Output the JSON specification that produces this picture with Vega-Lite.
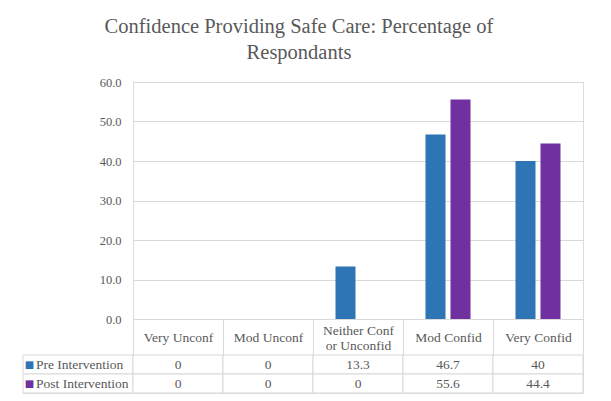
{
  "$schema": "https://vega.github.io/schema/vega-lite/v6.json",
  "background": "white",
  "padding": {"left": 22, "top": 17, "right": 10, "bottom": 5},
  "config": {"font": "'Liberation Serif', 'Times New Roman', serif"},
  "title": {
    "text": ["Confidence Providing Safe Care: Percentage of", "Respondants"],
    "font": "'Liberation Serif', 'Times New Roman', serif",
    "fontSize": 20.5,
    "fontWeight": "normal",
    "color": "#595959",
    "lineHeight": 26,
    "anchor": "middle",
    "dx": -4,
    "offset": 12
  },
  "datasets": {
    "d": [
      {"category": "Very Unconf", "series": "Pre Intervention", "value": 0},
      {"category": "Very Unconf", "series": "Post Intervention", "value": 0},
      {"category": "Mod Unconf", "series": "Pre Intervention", "value": 0},
      {"category": "Mod Unconf", "series": "Post Intervention", "value": 0},
      {"category": "Neither Conf or Unconfid", "series": "Pre Intervention", "value": 13.3},
      {"category": "Neither Conf or Unconfid", "series": "Post Intervention", "value": 0},
      {"category": "Mod Confid", "series": "Pre Intervention", "value": 46.7},
      {"category": "Mod Confid", "series": "Post Intervention", "value": 55.6},
      {"category": "Very Confid", "series": "Pre Intervention", "value": 40},
      {"category": "Very Confid", "series": "Post Intervention", "value": 44.4}
    ],
    "rows": [
      {"series": "Pre Intervention"},
      {"series": "Post Intervention"}
    ]
  },
  "columns": 2,
  "spacing": {"row": 36, "column": 0},
  "bounds": "flush",
  "concat": [
    {
      "width": 110,
      "height": 237,
      "data": {"values": []},
      "mark": "point",
      "encoding": {}
    },
    {
      "width": 450,
      "height": 237,
      "data": {"name": "d"},
      "mark": {"type": "bar"},
      "encoding": {
        "x": {
          "field": "category", "type": "nominal",
          "sort": ["Very Unconf", "Mod Unconf", "Neither Conf or Unconfid", "Mod Confid", "Very Confid"],
          "scale": {"paddingInner": 0, "paddingOuter": 0},
          "axis": null
        },
        "xOffset": {
          "field": "series", "type": "nominal",
          "sort": ["Pre Intervention", "Post Intervention"],
          "scale": {"paddingInner": 0.2, "paddingOuter": 0.9}
        },
        "y": {
          "field": "value", "type": "quantitative",
          "scale": {"domain": [0, 60]},
          "axis": {
            "values": [0, 10, 20, 30, 40, 50, 60],
            "format": ".1f",
            "title": null,
            "domain": false,
            "ticks": false,
            "grid": true,
            "gridColor": "#d9d9d9",
            "labelPadding": 12,
            "labelFont": "'Liberation Serif', 'Times New Roman', serif",
            "labelFontSize": 12.5,
            "labelColor": "#595959"
          }
        },
        "color": {
          "field": "series", "type": "nominal",
          "scale": {"domain": ["Pre Intervention", "Post Intervention"], "range": ["#2E75B6", "#7030A0"]},
          "legend": null
        }
      }
    },
    {
      "width": 110,
      "height": 38,
      "data": {"name": "rows"},
      "encoding": {
        "y": {
          "field": "series", "type": "nominal",
          "sort": ["Pre Intervention", "Post Intervention"],
          "scale": {"paddingInner": 0, "paddingOuter": 0},
          "axis": null
        }
      },
      "layer": [
        {"mark": {"type": "rect", "fill": "white", "stroke": "#d9d9d9", "strokeWidth": 1}},
        {
          "mark": {"type": "text", "text": "■", "dx": -48.5, "fontSize": 10, "font": "DejaVu Sans"},
          "encoding": {
            "color": {
              "field": "series", "type": "nominal",
              "scale": {"domain": ["Pre Intervention", "Post Intervention"], "range": ["#2E75B6", "#7030A0"]},
              "legend": null
            }
          }
        },
        {
          "mark": {"type": "text", "align": "left", "dx": -42, "font": "'Liberation Serif', 'Times New Roman', serif", "fontSize": 13.5, "color": "#595959"},
          "encoding": {"text": {"field": "series", "type": "nominal"}}
        }
      ]
    },
    {
      "width": 450,
      "height": 38,
      "data": {"name": "d"},
      "encoding": {
        "x": {
          "field": "category", "type": "nominal",
          "sort": ["Very Unconf", "Mod Unconf", "Neither Conf or Unconfid", "Mod Confid", "Very Confid"],
          "scale": {"paddingInner": 0, "paddingOuter": 0},
          "axis": {
            "orient": "top",
            "title": null,
            "domain": false,
            "tickBand": "extent",
            "tickSize": 36,
            "tickColor": "#d9d9d9",
            "labelAngle": 0,
            "labelPadding": {"condition": {"test": "datum.value == 'Neither Conf or Unconfid'", "value": -11}, "value": -18},
            "labelBaseline": "middle",
            "labelFont": "'Liberation Serif', 'Times New Roman', serif",
            "labelFontSize": 13.5,
            "labelColor": "#595959",
            "labelLineHeight": 15,
            "labelLimit": 0,
            "labelOverlap": false,
            "labelExpr": "datum.value == 'Neither Conf or Unconfid' ? ['Neither Conf', 'or Unconfid'] : datum.label"
          }
        },
        "y": {
          "field": "series", "type": "nominal",
          "sort": ["Pre Intervention", "Post Intervention"],
          "scale": {"paddingInner": 0, "paddingOuter": 0},
          "axis": null
        }
      },
      "layer": [
        {"mark": {"type": "rect", "fill": "white", "stroke": "#d9d9d9", "strokeWidth": 1}},
        {
          "mark": {"type": "text", "font": "'Liberation Serif', 'Times New Roman', serif", "fontSize": 13.5, "color": "#595959"},
          "encoding": {"text": {"field": "value", "type": "quantitative"}}
        }
      ]
    }
  ]
}
